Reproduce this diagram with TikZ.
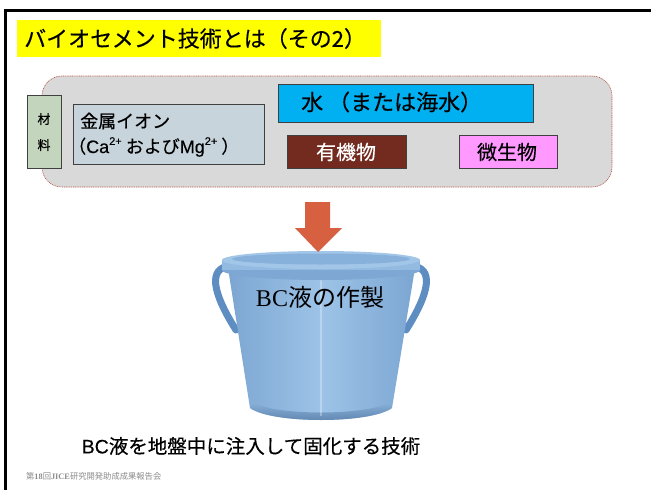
\documentclass[tikz,border=0pt]{standalone}
\usepackage{fontspec}
\setmainfont{Liberation Serif}
\newfontfamily\jp{Noto Sans CJK JP}[FakeBold=0.35]
\newfontfamily\jplight{Noto Sans CJK JP}
\newfontfamily\lsans{Liberation Sans}[FakeBold=0.35]
\usetikzlibrary{calc}
\definecolor{titleyellow}{HTML}{FFFF00}
\definecolor{panelgrey}{HTML}{D9D9D9}
\definecolor{paneledge}{HTML}{B5574A}
\definecolor{matgreen}{HTML}{C3D6BD}
\definecolor{iongrey}{HTML}{C8D4DC}
\definecolor{watercyan}{HTML}{00B0F0}
\definecolor{organicbrown}{HTML}{722B1E}
\definecolor{micropink}{HTML}{FF99FF}
\definecolor{arrowred}{HTML}{D6603F}
\definecolor{bucketmid}{HTML}{9DC3E7}
\definecolor{bucketedge}{HTML}{7CA6D2}
\definecolor{rimlight}{HTML}{A2C6E8}
\definecolor{rimdark}{HTML}{7EA8D3}
\definecolor{rimmid}{HTML}{93BBE2}
\definecolor{rimin}{HTML}{87B0DA}
\definecolor{handleblue}{HTML}{5E8DC2}
\definecolor{footgrey}{HTML}{8C8C8C}
\tikzset{
  itembox/.style={draw=black!75, line width=0.6pt, inner sep=0pt},
  boxtext/.style={font=\jp\fontsize{20}{22}\selectfont, inner sep=0pt},
}
\newcommand{\supp}[1]{\raisebox{0.45em}{\fontsize{11}{11}\selectfont #1}}
\begin{document}
\begin{tikzpicture}[x=1pt,y=-1pt]
\useasboundingbox (0,0) rectangle (651,490);
\fill[white] (0,0) rectangle (651,490);
% slide frame (top and left edges)
\draw[line width=3pt, black] (5.5,490) -- (5.5,10.5) -- (651,10.5);

% title bar
\node[fill=titleyellow, minimum width=364pt, minimum height=37pt, inner sep=0pt, anchor=north west] (titlebar) at (17,20) {};
\node[font=\jp\fontsize{22}{24}\selectfont, anchor=west, inner sep=0pt] (title) at (24,38.5) {バイオセメント技術とは（その2）};

% materials panel
\draw[fill=panelgrey, draw=paneledge, line width=0.6pt, dash pattern=on 1pt off 0.8pt, rounded corners=20pt] (42,76) rectangle (612,187);
\node[itembox, fill=matgreen, minimum width=34pt, minimum height=73pt, anchor=north west] (mat) at (27,95) {};
\node[font=\jp\fontsize{13}{14}\selectfont, inner sep=0pt] (matA) at (44,119) {材};
\node[font=\jp\fontsize{13}{14}\selectfont, inner sep=0pt] (matB) at (44,145) {料};

\node[itembox, fill=iongrey, minimum width=191pt, minimum height=60pt, anchor=north west] (ion) at (73,104) {};
\node[font=\jp\fontsize{18}{20}\selectfont, anchor=west, inner sep=0pt] (ionA) at (80,121) {金属イオン};
\node[font=\jp\fontsize{18}{19}\selectfont, anchor=west, inner sep=0pt] (ionB) at (68,147) {（{\lsans Ca\supp{2+}} および{\lsans Mg\supp{2+}} ）};

\node[itembox, fill=watercyan, minimum width=255pt, minimum height=38pt, anchor=north west] (water) at (278,84) {};
\node[font=\jp\fontsize{22}{24}\selectfont, anchor=west, inner sep=0pt] (waterT) at (301,102) {水 （または海水）};

\node[itembox, fill=organicbrown, minimum width=119pt, minimum height=33pt, anchor=north west] (org) at (287,135) {};
\node[boxtext, text=white] (orgT) at (346,152) {有機物};

\node[itembox, fill=micropink, minimum width=98pt, minimum height=33pt, anchor=north west] (mic) at (459,135) {};
\node[boxtext] (micT) at (507,152) {微生物};

% handles behind the pail
\draw[handleblue, line width=7pt, line cap=round] (230,266) .. controls (208,268) and (212,292) .. (236,330);
\draw[handleblue, line width=7pt, line cap=round] (412,266) .. controls (434,268) and (430,292) .. (406,330);

% pail body
\shade[left color=bucketedge, right color=bucketedge, middle color=bucketmid]
  (228,268) -- (415,268) -- (392,408) .. controls (370,424) and (272,424) .. (250,408) -- cycle;
\shade[top color=bucketedge!60!bucketmid, bottom color=handleblue!80!black, opacity=0.8]
  (252,402) .. controls (275,416) and (367,416) .. (390,402) -- (392,408) .. controls (370,424) and (272,424) .. (250,408) -- cycle;
\draw[white, opacity=0.3, line width=1.2pt] (321,272) -- (321,416);

% pail rim
\fill[rimdark] (321,270) ellipse [x radius=99, y radius=10];
\fill[rimmid] (222,260) rectangle (420,270);
\fill[rimlight] (321,260) ellipse [x radius=99, y radius=9];
\fill[rimin] (321,259) ellipse [x radius=89, y radius=5.5];

% arrow into the pail
\fill[arrowred] (305,202) -- (330,202) -- (330,228) -- (342,228) -- (318,252) -- (295,228) -- (305,228) -- cycle;

\node[inner sep=0pt] (bc) at (320,297) {\fontsize{24}{26}\selectfont BC{\jplight 液の作製}};

% caption and footer
\node[font=\jp\fontsize{19.5}{22}\selectfont, inner sep=0pt] (caption) at (251,446) {{\lsans BC}液を地盤中に注入して固化する技術};
\node[anchor=west, inner sep=0pt, text=footgrey, font=\fontsize{8.3}{9}\selectfont] (footer) at (26,476) {{\jplight 第}\textbf{18}{\jplight 回}\textbf{JICE}{\jplight 研究開発助成成果報告会}};
\end{tikzpicture}
\end{document}
